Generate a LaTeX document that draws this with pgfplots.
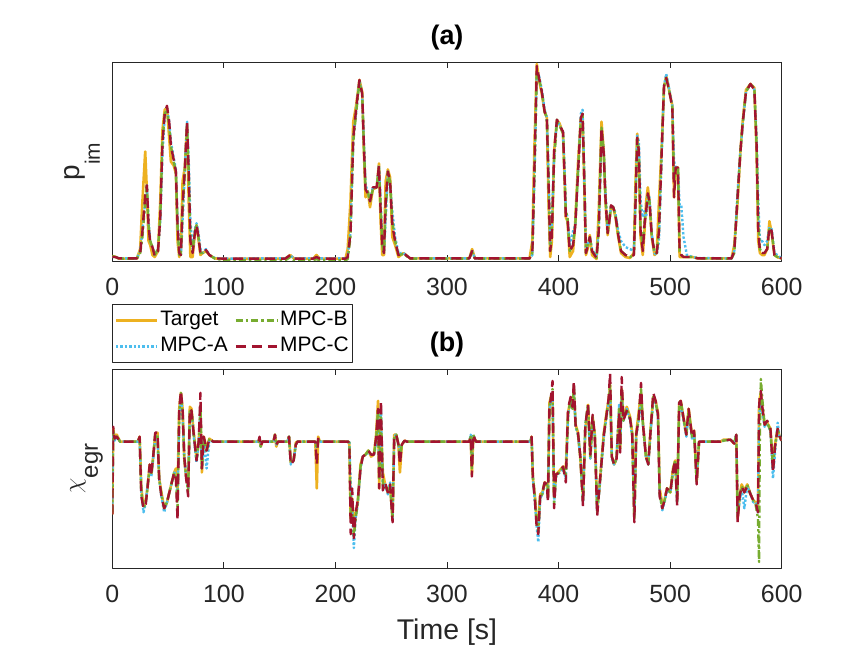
\documentclass[border=0pt]{standalone}
\usepackage{pgfplots}
\usepackage{pgfplotstable}
\usepackage{fontspec}
\setmainfont{Liberation Sans}
\pgfplotsset{compat=1.18}

\definecolor{cT}{HTML}{EDB120}
\definecolor{cA}{HTML}{4DBEEE}
\definecolor{cB}{HTML}{77AC30}
\definecolor{cC}{HTML}{A2142F}
\definecolor{axgray}{HTML}{262626}

% panel (a): t, Target, MPC-A, MPC-B, MPC-C (normalised p_im)
\pgfplotstableread{
t T A B C
0 0.025 0.020 0.025 0.020
3 0.020 0.020 0.020 0.020
6 0.012 0.013 0.012 0.013
22 0.012 0.013 0.012 0.013
25 0.06 0.05 0.04 0.04
27 0.30 0.15 0.12 0.15
29.5 0.55 0.30 0.30 0.33
31 0.35 0.38 0.38 0.38
32.5 0.10 0.20 0.18 0.18
34 0.08 0.10 0.10 0.09
36 0.03 0.07 0.07 0.07
38 0.02 0.03 0.03 0.025
41 0.05 0.06 0.06 0.05
43 0.30 0.20 0.22 0.22
45 0.66 0.55 0.60 0.60
47 0.76 0.72 0.74 0.74
49 0.77 0.77 0.76 0.78
51 0.62 0.70 0.68 0.70
52.5 0.50 0.60 0.58 0.58
55 0.48 0.52 0.50 0.51
57 0.44 0.46 0.45 0.45
58.5 0.10 0.20 0.18 0.18
60 0.02 0.04 0.03 0.04
61.5 0.06 0.03 0.03 0.03
63 0.40 0.20 0.25 0.28
65 0.47 0.45 0.45 0.46
67 0.69 0.70 0.68 0.70
68.5 0.30 0.50 0.45 0.45
70 0.02 0.20 0.12 0.10
72 0.02 0.06 0.05 0.04
74 0.14 0.16 0.15 0.14
75.5 0.18 0.19 0.18 0.18
77 0.12 0.15 0.13 0.13
79 0.03 0.06 0.04 0.04
81 0.04 0.04 0.04 0.04
84 0.05 0.06 0.05 0.055
87 0.03 0.03 0.03 0.03
92 0.013 0.015 0.012 0.013
100 0.010 0.012 0.004 0.012
130 0.012 0.013 0.003 0.012
155 0.012 0.013 0.003 0.012
159.5 0.030 0.028 0.020 0.030
163 0.012 0.013 0.003 0.012
180 0.012 0.013 0.003 0.012
183 0.030 0.020 0.010 0.020
186 0.012 0.013 0.003 0.012
209 0.012 0.013 0.003 0.012
211 0.06 0.02 0.01 0.02
213.5 0.30 0.15 0.12 0.14
216 0.70 0.62 0.60 0.62
218.5 0.78 0.75 0.74 0.76
221.5 0.91 0.91 0.90 0.91
224 0.85 0.84 0.83 0.84
225.5 0.55 0.60 0.58 0.58
227 0.32 0.38 0.36 0.36
229 0.35 0.35 0.35 0.34
231 0.27 0.30 0.30 0.30
233.5 0.36 0.37 0.36 0.37
237 0.37 0.37 0.37 0.37
239 0.49 0.48 0.47 0.48
240.5 0.20 0.30 0.28 0.25
242 0.03 0.10 0.08 0.07
243.5 0.03 0.04 0.04 0.04
245 0.40 0.20 0.25 0.30
247 0.46 0.45 0.44 0.45
249 0.42 0.38 0.40 0.40
251 0.12 0.25 0.20 0.18
253.5 0.08 0.12 0.10 0.10
256.5 0.02 0.04 0.03 0.03
261 0.04 0.04 0.035 0.04
267 0.013 0.013 0.012 0.013
320 0.013 0.013 0.012 0.013
322.5 0.06 0.05 0.045 0.05
325 0.013 0.013 0.012 0.013
374 0.013 0.013 0.012 0.013
376.5 0.10 0.03 0.04 0.04
378.5 0.60 0.45 0.45 0.50
380.5 0.99 0.95 0.95 0.98
382.5 0.91 0.93 0.92 0.92
385 0.84 0.86 0.85 0.85
387.5 0.75 0.76 0.75 0.75
389.5 0.72 0.72 0.72 0.72
391 0.30 0.45 0.42 0.40
392.5 0.02 0.08 0.05 0.05
394 0.10 0.20 0.15 0.12
396 0.55 0.52 0.50 0.55
398.5 0.71 0.71 0.70 0.71
401 0.69 0.68 0.68 0.68
404 0.64 0.65 0.64 0.65
405.5 0.40 0.45 0.40 0.40
406.5 0.22 0.25 0.25 0.22
408 0.20 0.22 0.22 0.22
410 0.02 0.08 0.05 0.05
413 0.05 0.15 0.08 0.08
415 0.20 0.18 0.18 0.18
417.5 0.50 0.45 0.45 0.45
420 0.72 0.74 0.72 0.72
421.5 0.73 0.76 0.74 0.74
423 0.40 0.45 0.42 0.42
424.5 0.03 0.06 0.04 0.04
426 0.06 0.08 0.08 0.07
428 0.13 0.12 0.12 0.12
430 0.03 0.06 0.05 0.05
434 0.01 0.02 0.015 0.015
436 0.25 0.15 0.15 0.15
438.5 0.70 0.65 0.67 0.67
440.5 0.55 0.55 0.55 0.54
442 0.30 0.35 0.33 0.32
444 0.13 0.15 0.14 0.14
445.5 0.20 0.20 0.20 0.20
447 0.27 0.28 0.28 0.28
449 0.27 0.27 0.27 0.27
451 0.22 0.24 0.23 0.23
453.5 0.12 0.15 0.13 0.13
456 0.04 0.10 0.05 0.05
460 0.02 0.07 0.03 0.03
464 0.015 0.06 0.02 0.02
467.5 0.04 0.05 0.03 0.03
469 0.40 0.30 0.30 0.30
470.5 0.64 0.63 0.62 0.62
472 0.50 0.60 0.55 0.55
473.5 0.12 0.30 0.15 0.15
475.5 0.03 0.22 0.08 0.05
477 0.15 0.25 0.20 0.18
478.5 0.30 0.22 0.25 0.25
480 0.37 0.33 0.33 0.34
481.5 0.30 0.32 0.30 0.30
483.5 0.12 0.14 0.13 0.13
486 0.03 0.04 0.04 0.04
488 0.04 0.03 0.04 0.04
490 0.30 0.10 0.15 0.15
492.5 0.58 0.55 0.56 0.56
494.5 0.87 0.88 0.88 0.88
496.5 0.93 0.94 0.92 0.92
499 0.86 0.87 0.86 0.86
502 0.78 0.78 0.77 0.77
503.5 0.32 0.50 0.40 0.32
505 0.47 0.47 0.47 0.47
507 0.47 0.47 0.47 0.47
508.5 0.02 0.28 0.05 0.05
510 0.02 0.28 0.03 0.03
512 0.02 0.12 0.02 0.02
515 0.02 0.03 0.02 0.02
520 0.02 0.02 0.02 0.02
525 0.013 0.015 0.013 0.013
555 0.013 0.013 0.012 0.013
557.5 0.08 0.05 0.04 0.05
560.5 0.30 0.35 0.33 0.33
563 0.55 0.55 0.55 0.55
565 0.70 0.68 0.69 0.69
568 0.86 0.85 0.85 0.85
572 0.89 0.89 0.89 0.89
575.5 0.87 0.86 0.87 0.86
577.5 0.55 0.62 0.58 0.58
579 0.10 0.30 0.20 0.15
580.5 0.04 0.10 0.06 0.05
582.5 0.03 0.10 0.04 0.04
584.5 0.03 0.08 0.04 0.04
587 0.06 0.10 0.06 0.06
589 0.20 0.17 0.16 0.17
591 0.14 0.16 0.15 0.15
593.5 0.03 0.04 0.03 0.03
596 0.02 0.03 0.02 0.02
600 0.013 0.013 0.013 0.013
}\tabA

% panel (b): t, Target, MPC-A, MPC-B, MPC-C (normalised chi_egr)
\pgfplotstableread{
t T A B C
0 0.27 0.30 0.28 0.27
0.8 0.70 0.68 0.69 0.71
2 0.66 0.64 0.65 0.65
4 0.67 0.66 0.66 0.66
7 0.635 0.635 0.635 0.635
23 0.635 0.635 0.635 0.635
24.5 0.66 0.65 0.66 0.66
26 0.40 0.38 0.38 0.36
28 0.31 0.28 0.30 0.30
30 0.34 0.33 0.33 0.32
31.5 0.40 0.41 0.40 0.40
33.5 0.52 0.50 0.51 0.52
35 0.47 0.46 0.47 0.48
36.5 0.55 0.54 0.55 0.55
38.5 0.67 0.66 0.67 0.68
40.5 0.68 0.66 0.67 0.68
42 0.45 0.45 0.45 0.45
44 0.38 0.36 0.37 0.36
46.5 0.30 0.28 0.30 0.30
49 0.33 0.33 0.33 0.33
52 0.40 0.40 0.40 0.40
55.5 0.48 0.48 0.48 0.48
57 0.50 0.47 0.45 0.45
58.5 0.40 0.35 0.30 0.24
60 0.80 0.75 0.78 0.80
61.5 0.88 0.86 0.88 0.89
63 0.80 0.76 0.78 0.80
64.5 0.55 0.56 0.56 0.56
66 0.47 0.47 0.47 0.46
68 0.40 0.40 0.38 0.36
69.5 0.81 0.78 0.80 0.80
71 0.80 0.79 0.79 0.79
73 0.68 0.66 0.67 0.67
75.5 0.55 0.53 0.54 0.54
77.5 0.64 0.63 0.63 0.64
79 0.78 0.80 0.82 0.88
80.3 0.48 0.50 0.50 0.50
82 0.66 0.65 0.66 0.66
84.5 0.60 0.50 0.58 0.59
87 0.65 0.64 0.65 0.65
90.5 0.635 0.635 0.635 0.635
131 0.635 0.635 0.635 0.635
132 0.65 0.65 0.65 0.66
133 0.61 0.61 0.61 0.61
134.5 0.635 0.635 0.635 0.635
144.5 0.635 0.635 0.635 0.635
145.8 0.67 0.66 0.67 0.67
147 0.61 0.62 0.62 0.62
148.5 0.635 0.635 0.635 0.635
157 0.635 0.635 0.635 0.635
158.4 0.66 0.66 0.66 0.66
160 0.53 0.52 0.53 0.52
162.5 0.54 0.54 0.54 0.54
164.5 0.63 0.62 0.62 0.62
166 0.635 0.635 0.635 0.635
182 0.635 0.635 0.635 0.635
183.3 0.40 0.60 0.60 0.52
184.5 0.66 0.64 0.65 0.65
186 0.635 0.635 0.635 0.635
211.5 0.635 0.635 0.635 0.635
212.5 0.62 0.64 0.63 0.62
213.7 0.25 0.40 0.25 0.17
215 0.35 0.30 0.35 0.40
216.5 0.20 0.10 0.15 0.15
218 0.27 0.25 0.24 0.27
220 0.33 0.32 0.33 0.34
222.5 0.52 0.50 0.51 0.50
224.5 0.56 0.56 0.56 0.56
227 0.57 0.57 0.57 0.57
229.5 0.59 0.58 0.59 0.59
232 0.56 0.57 0.57 0.57
234.5 0.57 0.57 0.57 0.57
236.5 0.67 0.62 0.64 0.66
238.2 0.84 0.78 0.80 0.80
239.2 0.40 0.50 0.45 0.40
240.8 0.70 0.80 0.78 0.84
242.5 0.48 0.40 0.42 0.39
244.5 0.42 0.42 0.42 0.43
247 0.38 0.37 0.38 0.38
249 0.42 0.43 0.41 0.42
251.2 0.24 0.25 0.25 0.23
252.7 0.67 0.66 0.66 0.66
254.5 0.67 0.67 0.67 0.67
256.5 0.62 0.62 0.62 0.62
257.8 0.48 0.58 0.55 0.52
259.5 0.62 0.62 0.62 0.62
262 0.64 0.64 0.64 0.64
264 0.635 0.635 0.635 0.635
320 0.635 0.635 0.635 0.635
321.3 0.66 0.67 0.66 0.66
322.3 0.47 0.52 0.50 0.46
323.5 0.66 0.67 0.67 0.67
326 0.635 0.635 0.635 0.635
374.8 0.635 0.635 0.635 0.635
375.8 0.66 0.66 0.66 0.66
377 0.45 0.45 0.46 0.45
378.8 0.36 0.33 0.36 0.34
380.2 0.25 0.22 0.24 0.22
381.8 0.20 0.13 0.18 0.17
383.5 0.37 0.35 0.36 0.36
385.5 0.38 0.37 0.37 0.38
387.5 0.43 0.43 0.43 0.43
389.5 0.42 0.42 0.42 0.42
390.5 0.36 0.35 0.35 0.33
391.8 0.83 0.80 0.81 0.80
393.2 0.86 0.84 0.86 0.86
394.6 0.85 0.88 0.90 0.94
396 0.36 0.33 0.32 0.30
397.7 0.47 0.46 0.47 0.47
401 0.49 0.48 0.48 0.48
404 0.51 0.50 0.51 0.51
406.5 0.50 0.45 0.46 0.43
408.5 0.78 0.76 0.77 0.80
410.8 0.85 0.85 0.85 0.86
412.5 0.81 0.80 0.80 0.81
413.7 0.88 0.90 0.92 0.94
415.3 0.72 0.71 0.72 0.71
417.4 0.68 0.67 0.67 0.68
419.5 0.55 0.56 0.56 0.56
421.9 0.35 0.33 0.33 0.31
424 0.70 0.72 0.72 0.72
426.4 0.82 0.81 0.82 0.82
428.5 0.55 0.55 0.56 0.57
430.5 0.76 0.74 0.76 0.77
432.5 0.67 0.66 0.67 0.66
434.6 0.30 0.28 0.28 0.26
436.4 0.39 0.38 0.39 0.39
438.8 0.56 0.54 0.55 0.55
440.6 0.68 0.66 0.67 0.67
443 0.78 0.76 0.77 0.77
444.8 0.84 0.82 0.84 0.85
446.2 0.92 0.90 0.92 0.98
447.7 0.56 0.55 0.56 0.56
449.8 0.52 0.52 0.52 0.52
452 0.55 0.55 0.55 0.55
454.3 0.80 0.82 0.80 0.78
455.2 0.60 0.62 0.60 0.58
456.6 0.90 0.88 0.90 0.96
458.1 0.75 0.74 0.74 0.74
461.1 0.81 0.80 0.80 0.79
464.1 0.76 0.74 0.75 0.75
466 0.68 0.66 0.67 0.67
467.9 0.26 0.26 0.25 0.23
469.6 0.68 0.66 0.67 0.67
471.8 0.78 0.74 0.75 0.75
473.9 0.88 0.86 0.90 0.93
475.5 0.74 0.73 0.73 0.73
478.3 0.56 0.56 0.56 0.56
480.4 0.53 0.52 0.52 0.52
482.5 0.70 0.68 0.69 0.69
484.9 0.86 0.84 0.86 0.88
487 0.84 0.83 0.83 0.84
489.1 0.78 0.76 0.77 0.77
490.6 0.40 0.38 0.37 0.36
493 0.32 0.29 0.30 0.30
495 0.34 0.33 0.34 0.34
497.2 0.40 0.39 0.40 0.40
500.2 0.38 0.38 0.38 0.38
502.6 0.50 0.48 0.49 0.49
504.5 0.54 0.53 0.54 0.54
506.3 0.35 0.33 0.33 0.31
508.1 0.82 0.80 0.83 0.83
509.5 0.84 0.82 0.84 0.84
512.1 0.75 0.74 0.75 0.75
514.5 0.67 0.66 0.67 0.67
516.6 0.80 0.78 0.79 0.80
519.6 0.67 0.65 0.66 0.66
521.5 0.69 0.68 0.68 0.69
523.8 0.44 0.45 0.43 0.42
525.9 0.635 0.635 0.635 0.635
545 0.635 0.635 0.635 0.635
548 0.645 0.64 0.64 0.64
554 0.645 0.645 0.645 0.645
557.5 0.625 0.63 0.63 0.625
559.3 0.66 0.67 0.67 0.67
560.5 0.25 0.27 0.26 0.23
562.3 0.36 0.33 0.36 0.36
564.1 0.42 0.40 0.41 0.41
566.5 0.39 0.30 0.38 0.38
569.1 0.42 0.41 0.42 0.41
572.1 0.37 0.37 0.37 0.37
574.5 0.34 0.33 0.34 0.34
576.6 0.33 0.33 0.32 0.33
578.7 0.29 0.28 0.25 0.28
579.7 0.80 0.75 0.03 0.80
580.3 0.85 0.80 0.60 0.86
581.3 0.88 0.85 0.95 0.89
582.6 0.80 0.78 0.85 0.81
584.7 0.72 0.71 0.72 0.72
587 0.73 0.72 0.73 0.74
589.9 0.70 0.69 0.69 0.70
592.2 0.52 0.45 0.50 0.48
594 0.62 0.58 0.61 0.61
596.4 0.70 0.73 0.70 0.70
598.2 0.66 0.65 0.66 0.66
600 0.64 0.64 0.64 0.64
}\tabB

\pgfplotsset{
  panel/.style={
    scale only axis, width=669.4bp, height=199bp,
    anchor=south west,
    xmin=0, xmax=600, ymin=0, ymax=1,
    xtick={0,100,...,600}, ytick=\empty,
    tick align=inside, major tick length=6bp,
    axis line style={axgray, line width=0.8bp},
    every tick/.style={axgray, line width=0.8bp},
    /pgf/number format/assume math mode=true,
    xticklabel style={font=\fontsize{25}{25}\selectfont, text=axgray,
      inner sep=0pt, anchor=north, yshift=-17bp},
    title style={font=\fontsize{27}{27}\selectfont\bfseries,
      at={(axis description cs:0.5,1)}, anchor=south, inner sep=0pt, yshift=6bp},
    no markers, line join=round,
  },
  sT/.style={cT, line width=2.6bp},
  sA/.style={cA, line width=2.4bp, dash pattern=on 2.4bp off 2bp},
  sB/.style={cB, line width=2.4bp, dash pattern=on 7bp off 3bp on 2.4bp off 3bp},
  sC/.style={cC, line width=2.4bp, dash pattern=on 10bp off 6bp},
}

\begin{document}
\begin{tikzpicture}
\useasboundingbox (0,0) rectangle (864bp,648bp);

\begin{axis}[panel, at={(112.3bp,387bp)},
  title={(a)},
  ylabel={p\raisebox{-20bp}{\fontsize{21}{21}\selectfont im}},
  ylabel style={font=\fontsize{28}{28}\selectfont, text=axgray,
    at={(axis description cs:-0.0184,0.5)}, anchor=south, inner sep=0pt},
  legend columns=2, transpose legend, legend cell align=left,
  legend style={at={(axis description cs:0,-0.2165)}, anchor=north west,
    draw=axgray, line width=0.8bp, font=\fontsize{21}{21}\selectfont,
    inner xsep=2bp, inner ysep=4.5bp, row sep=2.6bp,
    nodes={inner sep=2bp, text height=15bp, text depth=4.4bp},
    /tikz/every even column/.append style={column sep=5bp}},
  legend image code/.code={\draw[#1] (0bp,0bp) -- (41bp,0bp);},
]
\addplot[sT] table[x=t, y=T] {\tabA};
\addlegendentry{Target}
\addplot[sA] table[x=t, y=A] {\tabA};
\addlegendentry{MPC-A}
\addplot[sB] table[x=t, y=B] {\tabA};
\addlegendentry{MPC-B}
\addplot[sC] table[x=t, y=C] {\tabA};
\addlegendentry{MPC-C}
\end{axis}

\begin{axis}[panel, at={(112.3bp,80bp)},
  title={(b)},
  ylabel={$\chi$\raisebox{-17bp}{\fontsize{24}{24}\selectfont egr}},
  ylabel style={font=\fontsize{30}{30}\selectfont, text=axgray,
    at={(axis description cs:-0.0139,0.5)}, anchor=south, inner sep=0pt},
  xlabel={Time [s]},
  xlabel style={font=\fontsize{28.6}{28.6}\selectfont, text=axgray,
    at={(axis description cs:0.5,0)}, anchor=north, inner sep=0pt, yshift=-51bp},
]
\addplot[sT] table[x=t, y=T] {\tabB};
\addplot[sA] table[x=t, y=A] {\tabB};
\addplot[sB] table[x=t, y=B] {\tabB};
\addplot[sC] table[x=t, y=C] {\tabB};
\end{axis}
\end{tikzpicture}
\end{document}
